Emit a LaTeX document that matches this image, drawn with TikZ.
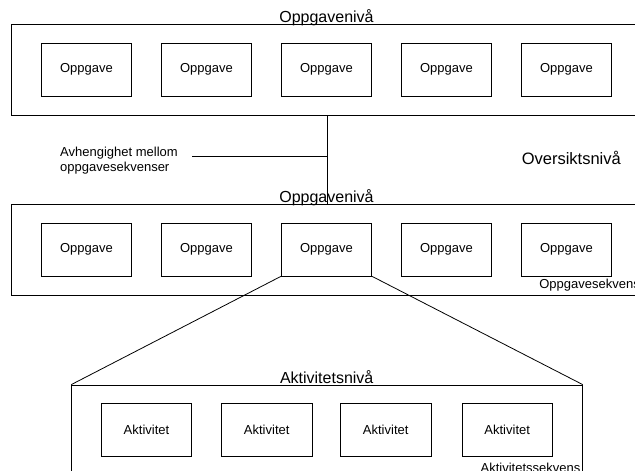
\documentclass[tikz,border=0pt]{standalone}
\usepackage{fontspec}
\setmainfont{Liberation Sans}
\begin{document}
\begin{tikzpicture}[x=1pt,y=-1pt,
  levelbox/.style={draw, line width=0.8pt, inner sep=0pt},
  unitbox/.style={draw, line width=0.8pt, inner sep=0pt,
    minimum width=90.5pt, minimum height=53pt,
    font=\fontsize{13}{15}\selectfont},
  levellabel/.style={inner sep=0pt, anchor=base,
    font=\fontsize{16}{19}\selectfont},
  smalllabel/.style={inner sep=0pt, font=\fontsize{13}{15}\selectfont},
  link/.style={line width=0.8pt}]
\useasboundingbox (0,0) rectangle (635,471);
\clip (0,0) rectangle (635,471);

% upper task level
\node[levelbox, minimum width=640pt, minimum height=90.7pt] (upper) at (331.7,69.65) {};
\foreach \i/\x in {1/86.5,2/206.5,3/326.5,4/446.5,5/566.5}
  \node[unitbox] (u\i) at (\x,69.8) {Oppgave};
\node[levellabel] (upperlabel) at (326.5,22.7) {Oppgavenivå};

% lower task level
\node[levelbox, minimum width=640pt, minimum height=91pt] (lower) at (331.7,249.5) {};
\foreach \i/\x in {1/86.5,2/206.5,3/326.5,4/446.5,5/566.5}
  \node[unitbox] (m\i) at (\x,249.5) {Oppgave};
\node[levellabel] (lowerlabel) at (326.5,202.7) {Oppgavenivå};
\node[smalllabel, anchor=base east] (seqlabel) at (640,288.5) {Oppgavesekvens};

% activity level
\node[levelbox, minimum width=510.6pt, minimum height=105pt] (act) at (327,437.5) {};
\foreach \i/\x in {1/146.5,2/266.7,3/385.7,4/507.2}
  \node[unitbox] (a\i) at (\x,430.2) {Aktivitet};
\node[levellabel] (actlabel) at (326.7,383.3) {Aktivitetsnivå};
\node[smalllabel, anchor=base east] (actseq) at (580.5,472.5) {Aktivitetssekvens};

% overview annotations
\node[levellabel, anchor=base east, font=\fontsize{16.5}{19}\selectfont] (overview) at (621,164) {Oversiktsnivå};
\node[smalllabel, anchor=west, align=left] (dep) at (60,161)
  {Avhengighet mellom\\oppgavesekvenser};
\coordinate (depend) at (192,156);
\coordinate (join) at (327.3,156);

% connectors
\draw[link] (upper.south -| join) -- (lower.north -| join);
\draw[link] (depend) -- (join);
\draw[link] (m3.south west) -- (act.north west);
\draw[link] (m3.south east) -- (act.north east);
\end{tikzpicture}
\end{document}
